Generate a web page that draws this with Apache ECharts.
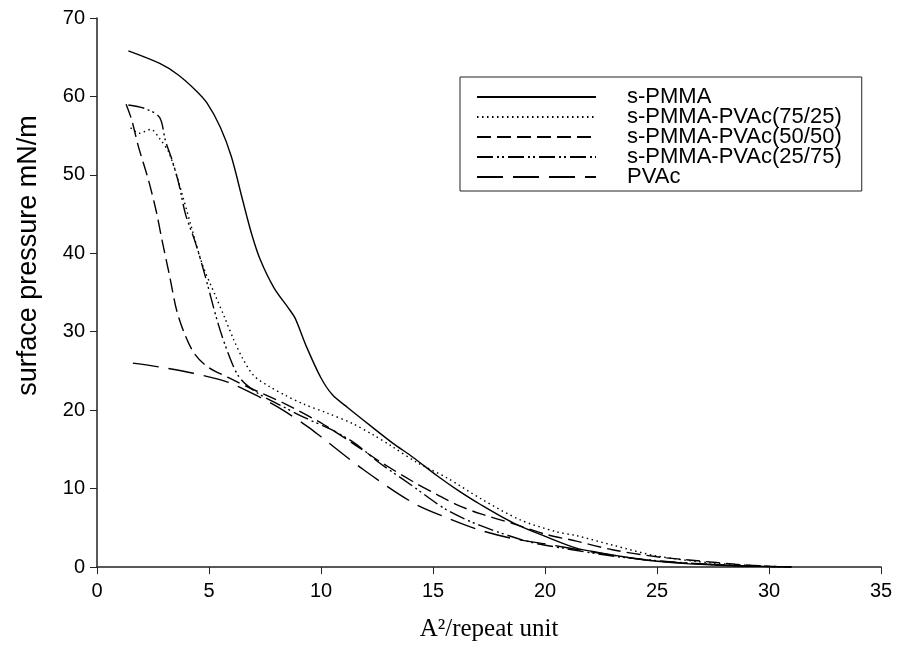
<!DOCTYPE html>
<html>
<head>
<meta charset="utf-8">
<script src="https://cdn.jsdelivr.net/npm/echarts@6/dist/echarts.min.js"></script>
<style>
  html, body { margin: 0; padding: 0; background: #fff; }
  #chart { width: 902px; height: 661px; }
</style>
</head>
<body>
<div id="chart"></div>
<script>
// 数据：A²/repeat unit vs surface pressure (mN/m)
const seriesNames = ['s-PMMA', 's-PMMA-PVAc(75/25)', 's-PMMA-PVAc(50/50)', 's-PMMA-PVAc(25/75)', 'PVAc'];

const sPMMA = [[1.4,65.8],[2.8,64.2],[3.6,62.8],[4.4,60.8],[4.9,59.2],[5.5,56.1],[6.0,52.3],[6.5,46.8],[6.9,42.5],[7.3,39.1],[7.9,35.6],[8.6,32.8],[8.85,31.7],[9.35,28.1],[10.0,24.1],[10.5,22.0],[11.2,20.3],[12.3,17.8],[13.2,15.8],[14.1,14.0],[15.2,11.6],[16.1,9.8],[17.1,8.0],[18.6,5.6],[20.1,3.8],[21.4,2.4],[22.3,1.9],[23.5,1.3],[24.5,0.9],[26,0.5],[28,0.2],[30,0.05],[31,0]];

const pvac7525 = [[1.5,56.0],[1.9,55.3],[2.4,55.8],[2.8,54.6],[3.2,52.9],[3.6,49.5],[4.2,43.5],[4.7,38.6],[5.3,34.5],[5.7,31.8],[6.1,29.0],[6.5,26.6],[7.0,24.4],[7.7,23.0],[8.4,21.9],[9.2,20.8],[10.3,19.6],[11.4,18.3],[12.3,16.9],[13.1,15.5],[14.3,13.3],[15.6,11.4],[17.2,8.6],[18.9,6.0],[20.5,4.5],[21.4,4.0],[23,2.8],[25,1.4],[27.5,0.5],[30,0.1],[31,0]];

const pvac5050 = [[1.3,59.0],[1.55,57.0],[1.85,53.6],[2.3,49.3],[2.65,45.3],[2.9,41.7],[3.25,37.0],[3.55,32.8],[3.9,29.8],[4.35,27.2],[4.95,25.5],[5.9,24.1],[7.0,22.6],[8.4,20.8],[10.1,18.2],[11.4,15.8],[12.6,13.5],[14.1,10.9],[15.2,9.2],[16.1,7.9],[17.1,6.8],[18.6,5.5],[20.0,4.2],[21.4,3.3],[23.0,2.2],[25,1.3],[26.8,0.8],[28.5,0.35],[30,0.1],[31,0]];

const pvac2575 = [[1.4,58.9],[2.2,58.4],[2.8,57.3],[3.05,54.4],[3.35,51.9],[3.65,48.9],[3.95,45.0],[4.4,41.3],[4.8,37.4],[5.4,31.1],[5.85,27.3],[6.35,24.2],[7.1,22.3],[8.2,20.6],[9.3,19.0],[10.4,17.6],[11.5,15.8],[12.6,13.3],[14.1,10.3],[15.6,7.3],[17.1,5.3],[19.3,3.2],[20.8,2.4],[23.0,1.4],[25,0.8],[27.5,0.3],[30,0.05],[31,0]];

const pvac = [[1.6,26.0],[2.8,25.5],[4.3,24.7],[5.8,23.6],[7.1,21.9],[8.3,20.0],[9.4,17.9],[10.0,16.6],[11.9,12.4],[14.1,8.2],[15.6,6.3],[17.1,4.7],[18.6,3.6],[20.1,2.9],[21.5,2.2],[23.0,1.5],[24.5,0.9],[26.0,0.55],[28,0.25],[30,0.05],[31,0]];

const seriesData = [sPMMA, pvac7525, pvac5050, pvac2575, pvac];
const dashTypes = ['solid', [1.5, 3.5], [14, 6], [16, 4, 2, 3, 2, 4], [26, 10]];

const chart = echarts.init(document.getElementById('chart'));

chart.setOption({
  backgroundColor: '#fff',
  animation: false,
  grid: { left: 97, right: 21, top: 18, bottom: 94 },
  legend: {
    orient: 'vertical',
    left: 460,
    top: 77,
    padding: [9, 20, 3, 16],
    itemWidth: 119,
    itemHeight: 12,
    itemGap: -2,
    borderColor: '#222',
    borderWidth: 1,
    selectedMode: false,
    itemStyle: { opacity: 0 },
    textStyle: {
      fontFamily: 'Liberation Sans',
      fontSize: 22,
      lineHeight: 20,
      color: '#000',
      padding: [0, 0, 0, 26],
    },
    data: seriesNames,
  },
  xAxis: {
    type: 'value',
    min: 0,
    max: 35,
    interval: 5,
    name: 'A²/repeat unit',
    nameLocation: 'middle',
    nameGap: 50,
    nameTextStyle: { fontFamily: 'Liberation Serif', fontSize: 25, color: '#000' },
    axisLine: { lineStyle: { color: '#222', width: 1.5 } },
    axisTick: { inside: false, length: 7, lineStyle: { color: '#222' } },
    axisLabel: { margin: 14, fontFamily: 'Liberation Sans', fontSize: 20, color: '#000' },
    splitLine: { show: false },
  },
  yAxis: {
    type: 'value',
    min: 0,
    max: 70,
    interval: 10,
    name: 'surface pressure mN/m',
    nameLocation: 'middle',
    nameGap: 55,
    nameTextStyle: {
      fontFamily: 'Liberation Sans',
      fontSize: 27,
      color: '#000',
      padding: [0, 0, 0, 74],
    },
    axisLine: { show: true, lineStyle: { color: '#222', width: 1.5 } },
    axisTick: { show: true, inside: false, length: 7, lineStyle: { color: '#222' } },
    axisLabel: { margin: 12, fontFamily: 'Liberation Sans', fontSize: 20, color: '#000' },
    splitLine: { show: false },
  },
  series: seriesNames.map((name, i) => ({
    name,
    type: 'line',
    data: seriesData[i],
    smooth: 0.3,
    symbol: 'none',
    lineStyle: { color: '#000', width: 1.4, type: dashTypes[i] },
    itemStyle: { color: '#000' },
  })),
});
</script>
</body>
</html>
